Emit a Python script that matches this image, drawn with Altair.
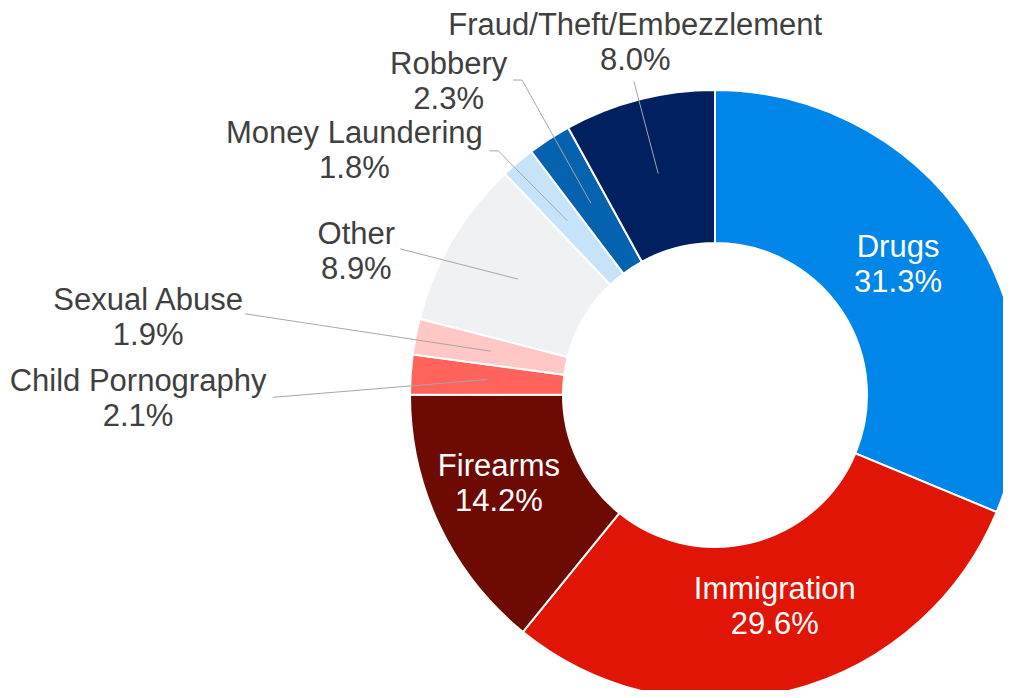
import math
import altair as alt
import pandas as pd

# ---- data -------------------------------------------------------------
categories = ["Drugs", "Immigration", "Firearms", "Child Pornography",
              "Sexual Abuse", "Other", "Money Laundering", "Robbery",
              "Fraud/Theft/Embezzlement"]
shares = [31.3, 29.6, 14.2, 2.1, 1.9, 8.9, 1.8, 2.3, 8.0]

# ---- style ------------------------------------------------------------
colors = ["#0085E8", "#E01505", "#6D0A04", "#FF635B", "#FFC7C5",
          "#F0F1F3", "#C6E3FA", "#0562AE", "#00205F"]
text_colors = ["white", "white", "white"] + ["#404040"] * 6
FONT = "Liberation Sans"
FONT_SIZE = 31
LINE_H = 35

# ---- layout (polar: degrees clockwise from 12 o'clock, px from centre) -
CX, CY = 707, 387
R_OUT, R_IN = 305, 152
label_angle = [54.8, 164.3, 247.4, 269.6, 277.7, 291.7, 304.0, 319.6, 347.2]
label_radius = [224, 221, 234, 577, 572, 386, 435, 411, 360]
leader_angle = [None, None, None, 269.7, 279.8, 294.9, 318.4, 328.5, 345.5]
leader_radius = [None, None, None, 442, 477, 347, 326.5, 369.4, 324]
leader_hook = [0, 0, 0, 0, 0, 0, 9, 9, 0]


def polar(angle_deg, r):
    a = math.radians(angle_deg)
    return CX + r * math.sin(a), CY - r * math.cos(a)


total = sum(shares)
mids = []
cum = 0.0
for s in shares:
    mids.append((cum + s / 2) / total * 360.0)
    cum += s

df = pd.DataFrame({
    "idx": list(range(len(categories))),
    "category": categories,
    "share": shares,
})

lab_rows = []
for i, (c, s) in enumerate(zip(categories, shares)):
    x, y = polar(label_angle[i], label_radius[i])
    lab_rows.append({"label": f"{c}\n{s:.1f}%", "px": x, "py": y,
                     "tcolor": text_colors[i]})
lab_df = pd.DataFrame(lab_rows)

rule_rows = []
mid_r = (R_OUT + R_IN) / 2
for i in range(len(categories)):
    if leader_angle[i] is None:
        continue
    sx, sy = polar(mids[i], mid_r)
    ex, ey = polar(leader_angle[i], leader_radius[i])
    rule_rows.append({"x": ex, "y": ey, "x2": sx, "y2": sy})
    if leader_hook[i]:
        rule_rows.append({"x": ex - leader_hook[i], "y": ey, "x2": ex, "y2": ey})
rule_df = pd.DataFrame(rule_rows)

arcs = alt.Chart(df).mark_arc(
    radius=R_OUT, radius2=R_IN, stroke="white", strokeWidth=2
).encode(
    theta=alt.Theta("share:Q", stack=True),
    order=alt.Order("idx:Q"),
    color=alt.Color("category:N",
                    scale=alt.Scale(domain=categories, range=colors),
                    legend=None),
    x=alt.value(CX),
    y=alt.value(CY),
)

rules = alt.Chart(rule_df).mark_rule(color="#A6A6A6", strokeWidth=1).encode(
    x=alt.X("x:Q", scale=None, axis=None),
    y=alt.Y("y:Q", scale=None, axis=None),
    x2="x2:Q",
    y2="y2:Q",
)

texts = alt.Chart(lab_df).mark_text(
    font=FONT, fontSize=FONT_SIZE, lineBreak="\n", lineHeight=LINE_H,
    align="center", baseline="middle", dy=-LINE_H / 2
).encode(
    x=alt.X("px:Q", scale=None, axis=None),
    y=alt.Y("py:Q", scale=None, axis=None),
    text="label:N",
    color=alt.Color("tcolor:N", scale=None),
)

chart = alt.layer(arcs, rules, texts).properties(
    width=995, height=682, padding=0,
    autosize=alt.AutoSizeParams(type="none"),
).configure_view(stroke=None)

chart.save("out.html", embed_options={"renderer": "svg", "actions": False})
